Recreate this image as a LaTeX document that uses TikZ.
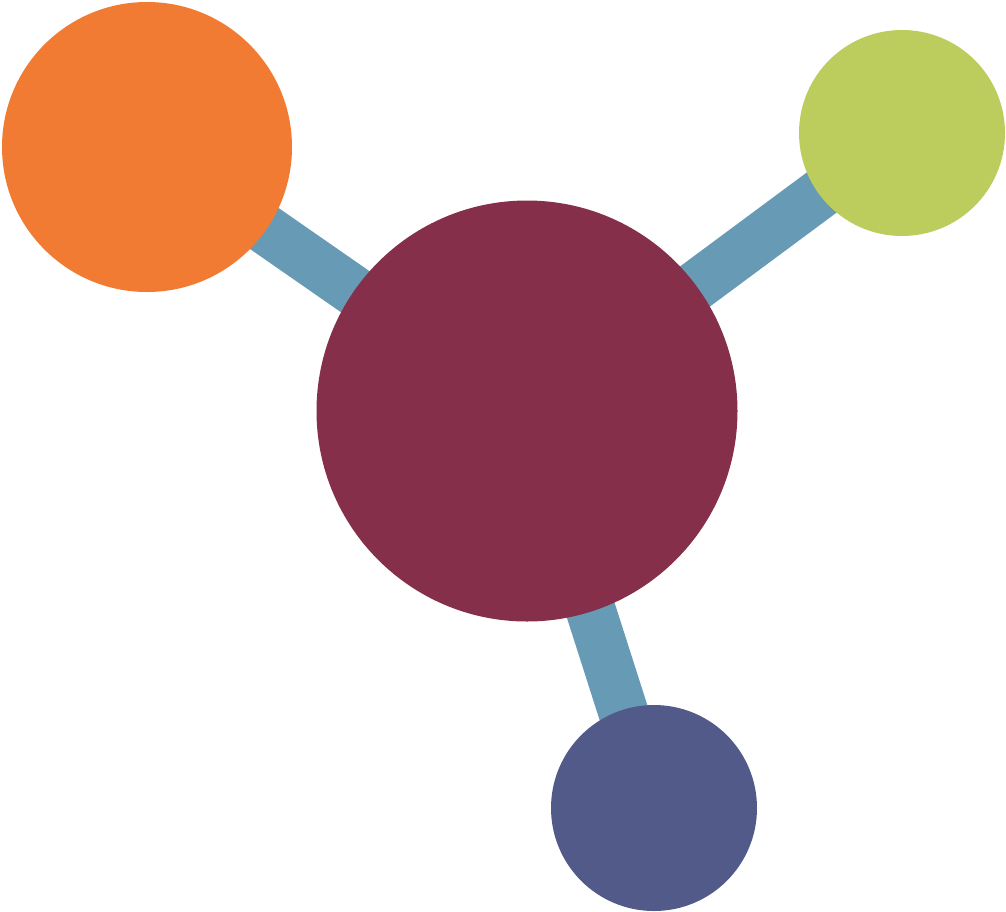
\documentclass[tikz,border=0pt]{standalone}
\definecolor{corange}{HTML}{F27B33}
\definecolor{cgreen}{HTML}{BCCD5E}
\definecolor{cmaroon}{HTML}{852F4A}
\definecolor{cnavy}{HTML}{525A8A}
\definecolor{cblue}{HTML}{679BB5}
\tikzset{
  ball/.style={circle, inner sep=0pt, draw=none},
  bond/.style={cblue, line width=50pt}
}
\begin{document}
\begin{tikzpicture}[x=1pt,y=-1pt]
\useasboundingbox (0,0) rectangle (1006,911);
\coordinate (co) at (147,147);
\coordinate (cg) at (902,133);
\coordinate (cm) at (527,411);
\coordinate (cn) at (654,808);
\draw[bond] (co) -- (cm);
\draw[bond] (cg) -- (cm);
\draw[bond] (cn) -- (cm);
\node[ball, fill=corange, minimum size=290pt] (orange) at (co) {};
\node[ball, fill=cgreen, minimum size=206pt] (green) at (cg) {};
\node[ball, fill=cmaroon, minimum size=421pt] (maroon) at (cm) {};
\node[ball, fill=cnavy, minimum size=206pt] (navy) at (cn) {};
\end{tikzpicture}
\end{document}
